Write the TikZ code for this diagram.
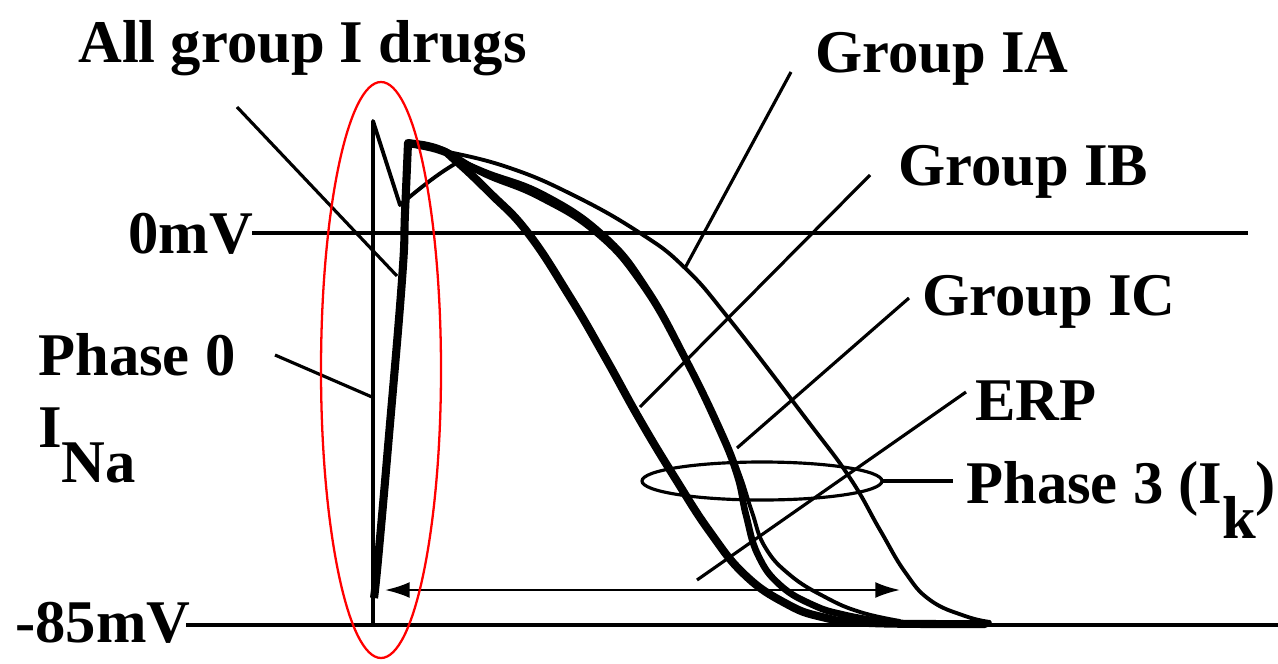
\documentclass[tikz,border=0pt]{standalone}
\usepackage{fontspec}
\setmainfont{Liberation Serif}
\usetikzlibrary{arrows.meta}
\begin{document}
\begin{tikzpicture}[x=0.02cm,y=-0.02cm,
  lbl/.style={font=\bfseries\fontsize{34.5}{40}\selectfont, inner sep=0pt, anchor=base west},
  thinln/.style={line width=2.2pt, line join=round, line cap=round},
  axisln/.style={line width=2.5pt},
  thickA/.style={line width=4.6pt, line join=round, line cap=round},
  thickB/.style={line width=3.8pt, line join=round, line cap=round},
  leader/.style={line width=1.8pt},
  curve/.style={smooth, tension=0.75}]
\useasboundingbox (0,0) rectangle (1278,663);
\fill[white] (0,0) rectangle (1278,663);

% labels
\node[lbl] (tAll) at (78,62) {All group I drugs};
\node[lbl] (tIA) at (815,72) {Group IA};
\node[lbl] (tIB) at (898,185) {Group IB};
\node[lbl] (tIC) at (922,315) {Group IC};
\node[lbl] (tERP) at (975,420) {ERP};
\node[lbl] (tP3) at (966,503) {Phase 3 (I\raisebox{-20pt}{k})};
\node[lbl] (t0) at (128,253) {0mV};
\node[lbl] (t85) at (15,642) {-85mV};
\node[lbl] (tP0) at (38,375) {Phase 0};
\node[lbl] (tINa) at (38,447) {I\raisebox{-20pt}{Na}};

% axis lines
\coordinate (z0a) at (252,233); \coordinate (z0b) at (1248,233);
\coordinate (zba) at (186,625); \coordinate (zbb) at (1278,625);
\draw[axisln] (z0a) -- (z0b);
\draw[axisln] (zba) -- (zbb);

% normal fast upstroke with notch
\draw[thinln] (373,625) -- (373,121) -- (400,205) .. controls (420,188) and (440,172) .. (460,161);

% slowed upstroke (thick)
\draw[line width=4.6pt, line join=round] plot[curve] coordinates {(374,598) (378,560) (388,447) (402,280) (405,213) (408,143)};

% repolarisation curves
\draw[thinln] plot[curve] coordinates {(408,143) (440,150) (507,167) (573,195) (640,233) (685,268) (730,320) (807,420) (850,478) (880,530) (905,572) (930,600) (965,616) (990,622)};
\draw[thinln] plot[curve] coordinates {(440,150) (483,170) (545,194) (605,235) (648,288) (688,360) (722,430) (740,475) (752,512) (765,547) (790,575) (825,597) (860,612) (900,621)};
\draw[thickB] plot[curve] coordinates {(408,143) (440,149) (483,173) (540,197) (597,233) (642,284) (683,355) (718,427) (737,475) (746,515) (758,555) (780,585) (813,605) (845,615) (885,622)};
\draw[thickA] plot[curve] coordinates {(408,143) (440,150) (455,160) (490,193) (528,233) (570,297) (605,357) (640,420) (675,478) (710,532) (745,575) (785,603) (822,617) (870,623) (985,624)};

% leaders
\coordinate (lAll1) at (237,107); \coordinate (lAll2) at (397,276);
\coordinate (lIA1) at (791,72);  \coordinate (lIA2) at (685,268);
\coordinate (lIB1) at (870,175); \coordinate (lIB2) at (640,407);
\coordinate (lIC1) at (909,298); \coordinate (lIC2) at (737,448);
\coordinate (lER1) at (966,392); \coordinate (lER2) at (697,580);
\coordinate (lP01) at (275,355); \coordinate (lP02) at (372,397);
\draw[leader] (lAll1) -- (lAll2);
\draw[leader] (lIA1) -- (lIA2);
\draw[leader] (lIB1) -- (lIB2);
\draw[leader] (lIC1) -- (lIC2);
\draw[leader] (lER1) -- (lER2);
\draw[leader] (lP01) -- (lP02);

% phase 3 ellipse and leader
\draw[line width=1.8pt] (762,481) coordinate (ell) ellipse [x radius=120, y radius=19];
\coordinate (p3a) at (882,481); \coordinate (p3b) at (953,481);
\draw[leader] (p3a) -- (p3b);

% ERP arrow
\coordinate (ea) at (385,590); \coordinate (eb) at (900,590);
\draw[line width=1.2pt, {Latex[length=14pt,width=9pt]}-{Latex[length=14pt,width=9pt]}] (ea) -- (eb);

% red ellipse
\draw[red, line width=1.3pt] (381,370) ellipse [x radius=60, y radius=288];
\end{tikzpicture}
\end{document}
